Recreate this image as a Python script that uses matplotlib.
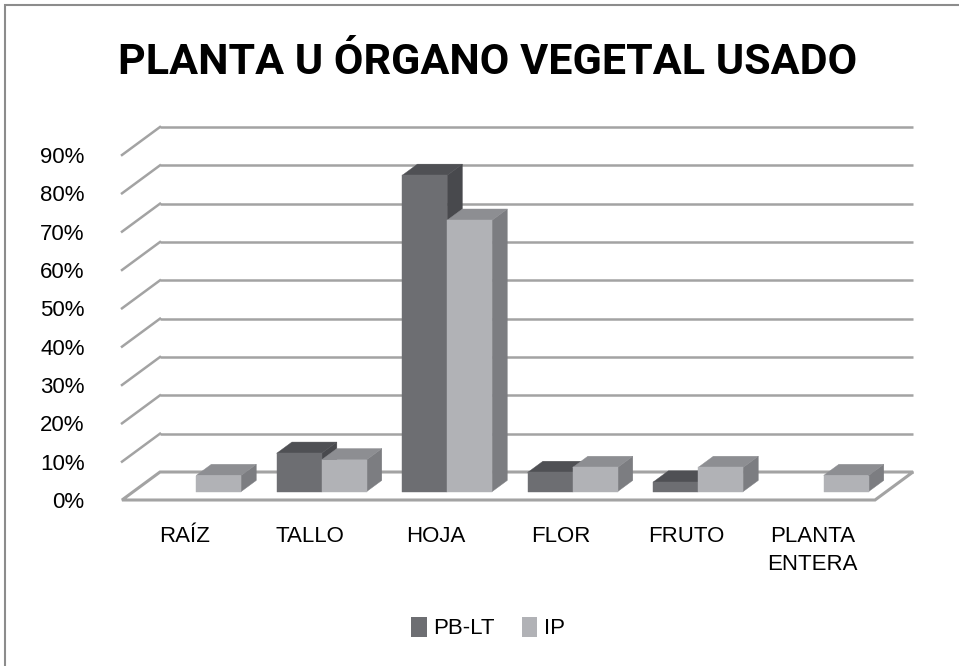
import matplotlib
matplotlib.use("Agg")
import matplotlib.pyplot as plt
from matplotlib.patches import Polygon, Rectangle, Patch

# ---- data ----
categories = ["RAÍZ", "TALLO", "HOJA", "FLOR", "FRUTO", "PLANTA\nENTERA"]
series_names = ["PB-LT", "IP"]
pb_lt = [0.0, 10.0, 82.5, 5.0, 2.5, 0.0]
ip = [4.2, 8.3, 70.8, 6.3, 6.3, 4.2]
y_ticks = [0, 10, 20, 30, 40, 50, 60, 70, 80, 90]
y_tick_labels = ["0%", "10%", "20%", "30%", "40%", "50%", "60%", "70%", "80%", "90%"]
title = "PLANTA U ÓRGANO VEGETAL USADO"

# ---- style ----
FONT = ["Liberation Sans", "DejaVu Sans"]
TITLE_FONT = ["Roboto", "Liberation Sans", "DejaVu Sans"]
face_colors = [
    {"front": "#6d6e72", "top": "#4f5054", "side": "#48494d"},
    {"front": "#b1b2b6", "top": "#8d8e92", "side": "#7c7d81"},
]
grid_color = "#a3a3a3"

W, H = 959, 666
fig = plt.figure(figsize=(W / 100, H / 100), dpi=100)
fig.patch.set_facecolor("white")

# axes = front plane of the 3-D box
ax = fig.add_axes([122 / W, 166 / H, 753 / W, 345 / H])
ncat = len(categories)
ax.set_xlim(-0.5, ncat - 0.5)
ax.set_ylim(0, 90)
for s in ax.spines.values():
    s.set_visible(False)
ax.patch.set_visible(False)

# depth offsets in data units
DX = 38 / (753 / ncat)
DY = 28 / (345 / 90)

x_left, x_right = -0.5, ncat - 0.5

# back wall gridlines and left wall diagonals
for v in y_ticks:
    ax.plot([x_left + DX, x_right + DX], [v + DY, v + DY], color=grid_color,
            lw=1.8, solid_capstyle="butt", clip_on=False, zorder=1)
    if v > 0:
        ax.plot([x_left, x_left + DX], [v, v + DY], color=grid_color,
                lw=1.8, clip_on=False, zorder=1)

# floor
floor = Polygon([(x_left, 0), (x_right, 0), (x_right + DX, DY), (x_left + DX, DY)],
                closed=True, facecolor="white", edgecolor=grid_color, lw=2.2,
                clip_on=False, zorder=1.5, joinstyle="miter")
ax.add_patch(floor)

# bars
f0, f1 = 0.3, 0.7
bw = 0.358
series = [pb_lt, ip]
z = 2
for i in range(ncat):
    for si, vals in enumerate(series):
        v = vals[i]
        if v <= 0:
            continue
        c = face_colors[si]
        x0 = i - bw + si * bw
        x1 = x0 + bw
        yb0 = f0 * DY
        yb1 = f1 * DY
        front = Polygon([(x0 + f0 * DX, yb0), (x1 + f0 * DX, yb0),
                         (x1 + f0 * DX, yb0 + v), (x0 + f0 * DX, yb0 + v)],
                        closed=True, facecolor=c["front"], edgecolor=c["front"],
                        lw=0.3, clip_on=False, zorder=z)
        top = Polygon([(x0 + f0 * DX, yb0 + v), (x1 + f0 * DX, yb0 + v),
                       (x1 + f1 * DX, yb1 + v), (x0 + f1 * DX, yb1 + v)],
                      closed=True, facecolor=c["top"], edgecolor=c["top"],
                      lw=0.3, clip_on=False, zorder=z)
        side = Polygon([(x1 + f0 * DX, yb0), (x1 + f1 * DX, yb1),
                        (x1 + f1 * DX, yb1 + v), (x1 + f0 * DX, yb0 + v)],
                       closed=True, facecolor=c["side"], edgecolor=c["side"],
                       lw=0.3, clip_on=False, zorder=z)
        ax.add_patch(side)
        ax.add_patch(top)
        ax.add_patch(front)
        z += 1

# axis labels
ax.set_yticks(y_ticks)
ax.set_yticklabels(y_tick_labels, fontsize=16, family=FONT, color="#000000")
ax.tick_params(axis="y", length=0, pad=27)
ax.set_xticks(range(ncat))
ax.set_xticklabels(categories, fontsize=16, family=FONT, color="#000000",
                   linespacing=1.4, va="top")
ax.tick_params(axis="x", length=0, pad=19)

# title
fig.text(488 / W, 1 - 62 / H, title, ha="center", va="center",
         fontsize=31, fontweight="bold", family=TITLE_FONT, color="#000000")

# legend
handles = [Patch(facecolor=face_colors[k]["front"], edgecolor="none") for k in range(2)]
fig.legend(handles, series_names, loc="center", bbox_to_anchor=(488 / W, 1 - 628 / H),
           ncol=2, frameon=False, handlelength=0.7, handleheight=1.0,
           handletextpad=0.3, columnspacing=1.2,
           prop={"family": FONT, "size": 16})

# outer chart border (only top and left visible)
fig.patches.append(Rectangle((5 / W, -0.1), 1.2, (H - 5) / H + 0.1,
                             transform=fig.transFigure, facecolor="none",
                             edgecolor="#8c8c8c", lw=1.5, clip_on=False))

fig.savefig("out.png", dpi=100, facecolor="white")
